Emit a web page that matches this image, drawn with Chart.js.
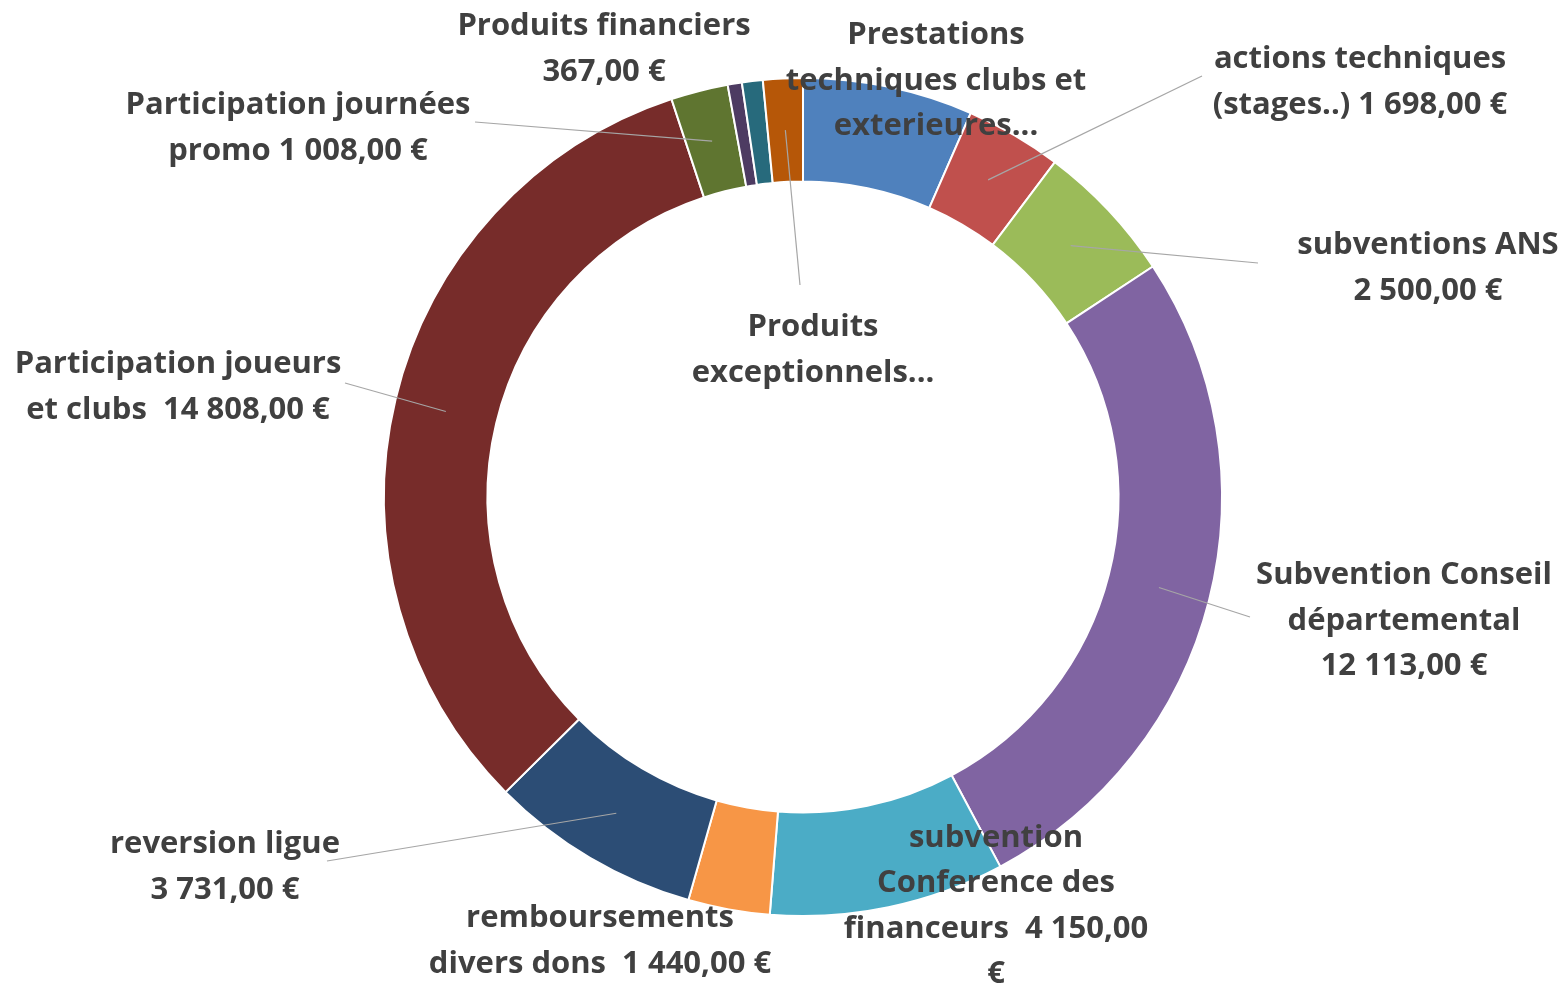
<!DOCTYPE html>
<html lang="fr">
<head>
<meta charset="utf-8">
<title>Produits</title>
<script src="https://cdn.jsdelivr.net/npm/chart.js@4.4.1/dist/chart.umd.min.js"></script>
<style>
  html, body { margin: 0; padding: 0; background: #ffffff; }
  canvas { display: block; }
</style>
</head>
<body>
<canvas id="chart-produits" width="1564" height="987"></canvas>
<script>
// slices, clockwise from 12 o'clock
const categories = [
  "Prestations techniques clubs et exterieures",
  "actions techniques (stages..)",
  "subventions ANS",
  "Subvention Conseil départemental",
  "subvention Conference des financeurs",
  "remboursements divers dons",
  "reversion ligue",
  "Participation joueurs et clubs",
  "Participation journées promo",
  "",
  "Produits financiers",
  "Produits exceptionnels",
];
const values = [3000, 1698, 2500, 12113, 4150, 1440, 3731, 14808, 1008, 250, 367, 700];

// text shown next to each slice (as wrapped in the original)
const labelLines = [
  ["Prestations", "techniques clubs et", "exterieures..."],
  ["actions techniques", "(stages..) 1 698,00 €"],
  ["subventions ANS", "2 500,00 €"],
  ["Subvention Conseil", "départemental", "12 113,00 €"],
  ["subvention", "Conference des", "financeurs  4 150,00", "€"],
  ["remboursements", "divers dons  1 440,00 €"],
  ["reversion ligue", "3 731,00 €"],
  ["Participation joueurs", "et clubs  14 808,00 €"],
  ["Participation journées", "promo 1 008,00 €"],
  [],
  ["Produits financiers", "367,00 €"],
  ["Produits", "exceptionnels..."],
];

const colors = [
  "#4F81BD", "#C0504D", "#9BBB59", "#8064A2", "#4BACC6", "#F79646",
  "#2C4D75", "#772C2A", "#5F7530", "#4D3B62", "#276A7C", "#B65708",
];

// label block centres and leader line ends (layout only)
const labelPos = [
  [936, 81], [1360, 82], [1428, 268], [1404, 621], [996, 906], [600, 941],
  [225, 867], [178, 387], [298, 128], null, [604, 49], [813, 350],
];
const leaderEnd = [
  null, [1202, 76], [1258, 263], [1250, 617], null, null,
  [327, 861], [345, 383], [475, 122], null, null, [800, 285],
];

const LINE_H = 45.5;

const outsideLabels = {
  id: "outsideLabels",
  afterDatasetsDraw(chart) {
    const ctx = chart.ctx;
    const arcs = chart.getDatasetMeta(0).data;

    ctx.save();
    ctx.strokeStyle = "#A6A6A6";
    ctx.lineWidth = 1.2;
    arcs.forEach((arc, i) => {
      const end = leaderEnd[i];
      if (!end) return;
      const p = arc.getProps(["x", "y", "startAngle", "endAngle", "innerRadius", "outerRadius"], true);
      const mid = (p.startAngle + p.endAngle) / 2;
      const r = (p.innerRadius + p.outerRadius) / 2;
      ctx.beginPath();
      ctx.moveTo(p.x + Math.cos(mid) * r, p.y + Math.sin(mid) * r);
      ctx.lineTo(end[0], end[1]);
      ctx.stroke();
    });

    ctx.fillStyle = "#404040";
    ctx.font = "bold 31px 'Open Sans'";
    ctx.textAlign = "center";
    ctx.textBaseline = "middle";
    labelLines.forEach((lines, i) => {
      const pos = labelPos[i];
      if (!pos || !lines.length) return;
      const top = pos[1] - (lines.length - 1) * LINE_H / 2;
      lines.forEach((txt, k) => ctx.fillText(txt, pos[0], top + k * LINE_H));
    });
    ctx.restore();
  },
};

const dataProduits = {
  labels: categories,
  datasets: [
    {
      data: values,
      backgroundColor: colors,
      borderColor: "#ffffff",
      borderWidth: 2,
    },
  ],
};

const optionsProduits = {
  responsive: false,
  animation: false,
  radius: 419,
  cutout: "75.3%",
  layout: {
    padding: { left: 42, right: 0, top: 7, bottom: 0 },
  },
  plugins: {
    legend: { display: false },
    tooltip: { enabled: false },
  },
};

new Chart(document.querySelector("#chart-produits").getContext("2d"), {
  type: "doughnut",
  data: dataProduits,
  options: optionsProduits,
  plugins: [outsideLabels],
});
</script>
</body>
</html>
